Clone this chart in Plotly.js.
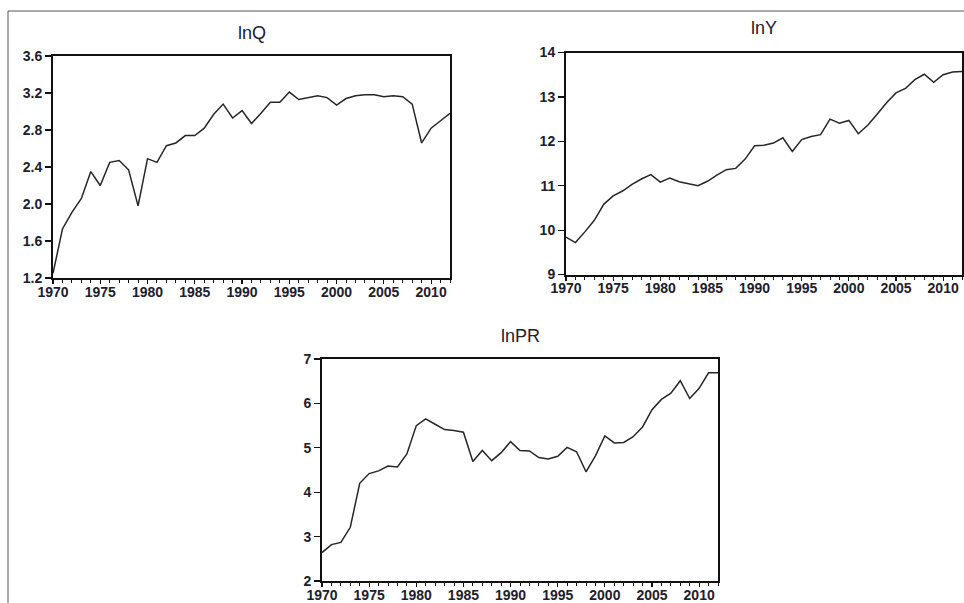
<!DOCTYPE html>
<html>
<head>
<meta charset="utf-8">
<script src="https://cdn.plot.ly/plotly-3.0.1.min.js"></script>
<style>
html,body{margin:0;padding:0;background:#fff;}
#chart{width:964px;height:603px;}
</style>
</head>
<body>
<div id="chart"></div>
<script>
const years = [];
for (let y = 1970; y <= 2012; y++) years.push(y);

const lnQ = [1.25,1.73,1.91,2.06,2.35,2.20,2.45,2.47,2.37,1.98,
             2.49,2.45,2.63,2.66,2.74,2.74,2.82,2.97,3.08,2.93,
             3.01,2.87,2.98,3.10,3.10,3.21,3.13,3.15,3.17,3.15,
             3.07,3.14,3.17,3.18,3.18,3.16,3.17,3.16,3.08,2.66,
             2.82,2.90,2.98];

const lnY = [9.84,9.72,9.96,10.22,10.58,10.77,10.88,11.03,11.15,11.25,
             11.08,11.17,11.09,11.05,11.00,11.10,11.24,11.36,11.39,11.60,
             11.90,11.91,11.96,12.08,11.77,12.04,12.11,12.15,12.50,12.41,
             12.47,12.17,12.36,12.61,12.87,13.09,13.19,13.39,13.51,13.33,
             13.50,13.56,13.57];

const lnPR = [2.64,2.82,2.87,3.21,4.20,4.42,4.48,4.59,4.57,4.86,
              5.50,5.65,5.53,5.41,5.39,5.35,4.69,4.94,4.71,4.89,
              5.14,4.94,4.93,4.78,4.75,4.81,5.01,4.91,4.46,4.82,
              5.27,5.11,5.12,5.25,5.47,5.86,6.09,6.23,6.51,6.11,
              6.34,6.69,6.69];

const titles = ["lnQ", "lnY", "lnPR"];
const yTicksQ = [1.2,1.6,2.0,2.4,2.8,3.2,3.6];
const yTicksY = [9,10,11,12,13,14];
const yTicksPR = [2,3,4,5,6,7];
const xTicks = [1970,1975,1980,1985,1990,1995,2000,2005,2010];

const W = 964, H = 603;
function dx(a, b) { return [a / W, b / W]; }
function dy(top, bottom) { return [1 - bottom / H, 1 - top / H]; }

const lineStyle = {color: '#262626', width: 1.5};
const traces = [
  {x: years, y: lnQ, type: 'scatter', mode: 'lines', line: lineStyle, xaxis: 'x', yaxis: 'y', hoverinfo: 'skip'},
  {x: years, y: lnY, type: 'scatter', mode: 'lines', line: lineStyle, xaxis: 'x2', yaxis: 'y2', hoverinfo: 'skip'},
  {x: years, y: lnPR, type: 'scatter', mode: 'lines', line: lineStyle, xaxis: 'x3', yaxis: 'y3', hoverinfo: 'skip'}
];

const tickFont = {family: 'Liberation Sans, Arial, sans-serif', size: 14, weight: 'bold', color: '#20202c'};

function xAx(domain, anchor) {
  return {
    domain: domain, anchor: anchor, range: [1970, 2012],
    tickmode: 'array', tickvals: xTicks, ticktext: xTicks.map(String),
    ticks: 'outside', ticklen: 4, tickwidth: 1.2, tickcolor: '#111',
    minor: {tickmode: 'linear', tick0: 1970, dtick: 1, ticks: 'outside', ticklen: 3, tickwidth: 1, tickcolor: '#111', showgrid: false},
    showline: true, linewidth: 2, linecolor: '#111', mirror: true,
    ticklabelstandoff: -4,
    showgrid: false, zeroline: false, tickfont: tickFont, automargin: false, fixedrange: true
  };
}
function yAx(domain, anchor, range, vals, fmt) {
  return {
    domain: domain, anchor: anchor, range: range,
    tickmode: 'array', tickvals: vals, ticktext: vals.map(v => fmt ? v.toFixed(1) : String(v)),
    ticks: 'outside', ticklen: 6, tickwidth: 1.2, tickcolor: '#111',
    showline: true, linewidth: 2, linecolor: '#111', mirror: true,
    showgrid: false, zeroline: false, tickfont: tickFont, automargin: false, fixedrange: true
  };
}

const titleFont = {family: 'Liberation Sans, Arial, sans-serif', size: 18, color: '#20202c'};

const layout = {
  width: W, height: H,
  margin: {l: 0, r: 0, t: 0, b: 0},
  paper_bgcolor: '#ffffff', plot_bgcolor: '#ffffff',
  showlegend: false,
  xaxis: xAx(dx(53, 450), 'y'),
  yaxis: yAx(dy(56, 278), 'x', [1.2, 3.6], yTicksQ, true),
  xaxis2: xAx(dx(566, 962), 'y2'),
  yaxis2: yAx(dy(52.5, 274.5), 'x2', [9, 14], yTicksY, false),
  xaxis3: xAx(dx(322, 718), 'y3'),
  yaxis3: yAx(dy(359, 581), 'x3', [2, 7], yTicksPR, false),
  annotations: [
    {text: titles[0], x: 252 / W, y: 1 - 33 / H, xref: 'paper', yref: 'paper', showarrow: false, font: titleFont, xanchor: 'center', yanchor: 'middle'},
    {text: titles[1], x: 764 / W, y: 1 - 28 / H, xref: 'paper', yref: 'paper', showarrow: false, font: titleFont, xanchor: 'center', yanchor: 'middle'},
    {text: titles[2], x: 520 / W, y: 1 - 336 / H, xref: 'paper', yref: 'paper', showarrow: false, font: titleFont, xanchor: 'center', yanchor: 'middle'}
  ],
  shapes: [
    {type: 'line', xref: 'paper', yref: 'paper', x0: 8 / W, x1: 1, y0: 1 - 11 / H, y1: 1 - 11 / H, line: {color: '#555', width: 1}},
    {type: 'line', xref: 'paper', yref: 'paper', x0: 8 / W, x1: 8 / W, y0: 0, y1: 1 - 11 / H, line: {color: '#555', width: 1}}
  ]
};

Plotly.newPlot('chart', traces, layout, {staticPlot: true, displayModeBar: false});
</script>
</body>
</html>
